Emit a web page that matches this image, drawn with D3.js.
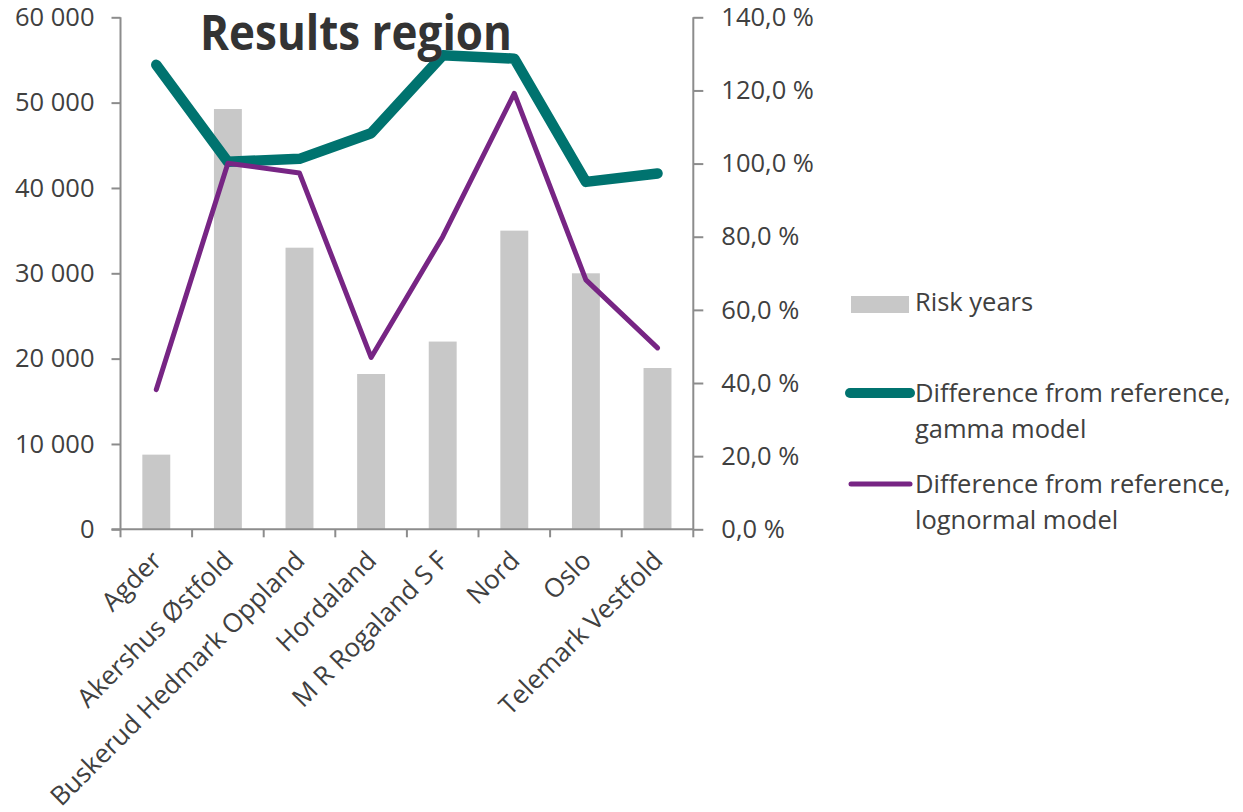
<!DOCTYPE html>
<html><head><meta charset="utf-8">
<script src="https://cdn.jsdelivr.net/npm/d3@7"></script>
<style>
body{margin:0;background:#fff;}
svg{display:block;font-family:"Open Sans",sans-serif;}
</style></head>
<body>
<svg id="chart" width="1243" height="812"></svg>
<script>
const categories = ["Agder","Akershus Østfold","Buskerud Hedmark Oppland","Hordaland","M R Rogaland S F","Nord","Oslo","Telemark Vestfold"];
const riskYears = [8750, 49250, 33000, 18200, 22000, 35000, 30000, 18900];
const gammaDiff = [127.0, 100.5, 101.3, 108.3, 129.6, 128.7, 95.0, 97.3];
const lognormalDiff = [38.2, 100.1, 97.4, 47.0, 80.0, 119.2, 68.2, 49.6];
const leftTicks = [0, 10000, 20000, 30000, 40000, 50000, 60000];
const rightTicks = [0, 20, 40, 60, 80, 100, 120, 140];
const seriesNames = ["Risk years", "Difference from reference,\ngamma model", "Difference from reference,\nlognormal model"];
const title = "Results region";

const svg = d3.select("#chart");
const L = 120.5, R = 693.3, T = 17.3, B = 529.3;
const axisColor = "#8c8c8c", textColor = "#404040";
const barColor = "#c8c8c8", gammaColor = "#00736f", logColor = "#772584";

const x = d3.scaleBand().domain(categories).range([L, R]).paddingInner(0.61).paddingOuter(0.305);
const xc = d3.scaleBand().domain(categories).range([L, R]);
const yL = d3.scaleLinear().domain([0, 60000]).range([B, T]);
const yR = d3.scaleLinear().domain([0, 140]).range([B, T]);

// bars
svg.append("g").selectAll("rect").data(riskYears).join("rect")
  .attr("x", (d,i) => x(categories[i]))
  .attr("width", x.bandwidth())
  .attr("y", d => yL(d))
  .attr("height", d => B - yL(d))
  .attr("fill", barColor);

// axes
const fmtL = d => d3.format(",")(d).replace(/,/g, " ");
const leftAxis = d3.axisLeft(yL).tickValues(leftTicks).tickFormat(fmtL).tickSize(9).tickPadding(17);
const gl = svg.append("g").attr("transform", `translate(${L},0)`).call(leftAxis);
const rightAxis = d3.axisRight(yR).tickValues(rightTicks).tickFormat(d => d3.format(".1f")(d).replace(".", ",") + " %").tickSize(10).tickPadding(18);
const gr = svg.append("g").attr("transform", `translate(${R},0)`).call(rightAxis);
const bottomAxis = d3.axisBottom(xc).tickSize(8).tickFormat("");
const gb = svg.append("g").attr("transform", `translate(0,${B})`).call(bottomAxis);
gb.selectAll(".tick").remove();
const bounds = d3.range(categories.length + 1).map(i => L + i * xc.step());
gb.selectAll("line.b").data(bounds).join("line").attr("class","b")
  .attr("x1", d => d).attr("x2", d => d).attr("y1", 0).attr("y2", 8)
  .attr("stroke", axisColor).attr("stroke-width", 2);
gb.select(".domain").attr("d", `M${L-9},0H${R}`);

[gl, gr, gb].forEach(g => {
  g.select(".domain").attr("stroke", axisColor).attr("stroke-width", 2);
  g.selectAll(".tick line").attr("stroke", axisColor).attr("stroke-width", 2);
  g.selectAll(".tick text").attr("fill", textColor).attr("font-size", 25.5).attr("font-family", "Open Sans");
});
gl.select(".domain").attr("d", `M0,${T}V${B}`);
gr.select(".domain").attr("d", `M0,${T}V${B}`);

// category labels
svg.append("g").selectAll("text").data(categories).join("text")
  .attr("transform", d => `translate(${xc(d) + xc.step()/2 - 6},${B + 20}) rotate(-45)`)
  .attr("text-anchor", "end")
  .attr("dy", "0.7em")
  .attr("font-size", 26)
  .attr("fill", textColor)
  .text(d => d);

// lines
const cx = (d,i) => xc(categories[i]) + xc.step()/2;
const lineG = d3.line().x(cx).y(d => yR(d));
svg.append("path").datum(gammaDiff).attr("d", lineG)
  .attr("fill","none").attr("stroke", gammaColor).attr("stroke-width", 10.5)
  .attr("stroke-linecap","round").attr("stroke-linejoin","round");
svg.append("path").datum(lognormalDiff).attr("d", lineG)
  .attr("fill","none").attr("stroke", logColor).attr("stroke-width", 5)
  .attr("stroke-linecap","round").attr("stroke-linejoin","round");

// title
svg.append("text").attr("x", 356).attr("y", 50).attr("text-anchor","middle")
  .attr("font-size", 48).attr("font-weight","bold").attr("fill","#333333")
  .attr("textLength", 312).attr("lengthAdjust","spacingAndGlyphs")
  .text(title);

// legend
const lg = svg.append("g");
lg.append("rect").attr("x", 851).attr("y", 296).attr("width", 58).attr("height", 17).attr("fill", barColor);
lg.append("line").attr("x1", 850).attr("x2", 910).attr("y1", 393).attr("y2", 393)
  .attr("stroke", gammaColor).attr("stroke-width", 10).attr("stroke-linecap","round");
lg.append("line").attr("x1", 851).attr("x2", 910).attr("y1", 484).attr("y2", 484)
  .attr("stroke", logColor).attr("stroke-width", 5).attr("stroke-linecap","round");
const legendY = [302, 393, 484];
seriesNames.forEach((name, i) => {
  const t = lg.append("text").attr("x", 915).attr("y", legendY[i])
    .attr("font-size", 25.5).attr("fill", textColor);
  name.split("\n").forEach((part, j) => {
    t.append("tspan").attr("x", 915).attr("dy", j === 0 ? "0.35em" : "1.43em").text(part);
  });
});
</script>
</body></html>
